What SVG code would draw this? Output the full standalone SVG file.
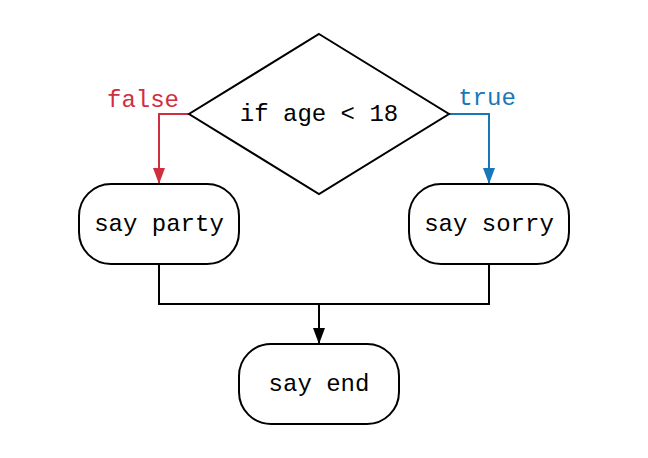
<svg xmlns="http://www.w3.org/2000/svg" width="648" height="458" viewBox="0 0 648 458">
  <style>
    .shape { fill: #ffffff; stroke: #000000; stroke-width: 2; }
    .label { font-family: "Liberation Mono", "DejaVu Sans Mono", monospace; font-size: 24px; text-anchor: middle; fill: #000000; }
    .edge { fill: none; stroke-width: 2; }
    .black { stroke: #000000; }
    .red { stroke: #cf2e3e; }
    .blue { stroke: #1777b8; }
  </style>
  <defs>
    <marker id="arrow-black" viewBox="0 0 16 12" refX="16" refY="6" markerWidth="16" markerHeight="12" markerUnits="userSpaceOnUse" orient="auto">
      <path d="M0,0 L16,6 L0,12 Z" fill="#000000"/>
    </marker>
    <marker id="arrow-red" viewBox="0 0 16 12" refX="16" refY="6" markerWidth="16" markerHeight="12" markerUnits="userSpaceOnUse" orient="auto">
      <path d="M0,0 L16,6 L0,12 Z" fill="#cf2e3e"/>
    </marker>
    <marker id="arrow-blue" viewBox="0 0 16 12" refX="16" refY="6" markerWidth="16" markerHeight="12" markerUnits="userSpaceOnUse" orient="auto">
      <path d="M0,0 L16,6 L0,12 Z" fill="#1777b8"/>
    </marker>
  </defs>
  <rect width="648" height="458" fill="#ffffff"/>

  <g id="connectors">
    <path class="edge red" d="M189,114 H159 V184" marker-end="url(#arrow-red)"/>
    <path class="edge blue" d="M449,114 H489 V184" marker-end="url(#arrow-blue)"/>
    <path class="edge black" d="M159,264 V304 H489 V264"/>
    <path class="edge black" d="M319,304 V344" marker-end="url(#arrow-black)"/>
    <text class="label" x="143" y="107" style="fill:#cf2e3e">false</text>
    <text class="label" x="487" y="105" style="fill:#1777b8">true</text>
  </g>

  <g id="decision">
    <polygon class="shape" points="319,34 449,114 319,194 189,114"/>
    <text class="label" x="319" y="121">if age &lt; 18</text>
  </g>

  <g id="say-party">
    <rect class="shape" x="79" y="184" width="160" height="80" rx="32" ry="32"/>
    <text class="label" x="159" y="231">say party</text>
  </g>

  <g id="say-sorry">
    <rect class="shape" x="409" y="184" width="160" height="80" rx="32" ry="32"/>
    <text class="label" x="489" y="231">say sorry</text>
  </g>

  <g id="say-end">
    <rect class="shape" x="239" y="344" width="160" height="80" rx="32" ry="32"/>
    <text class="label" x="319" y="391">say end</text>
  </g>
</svg>
